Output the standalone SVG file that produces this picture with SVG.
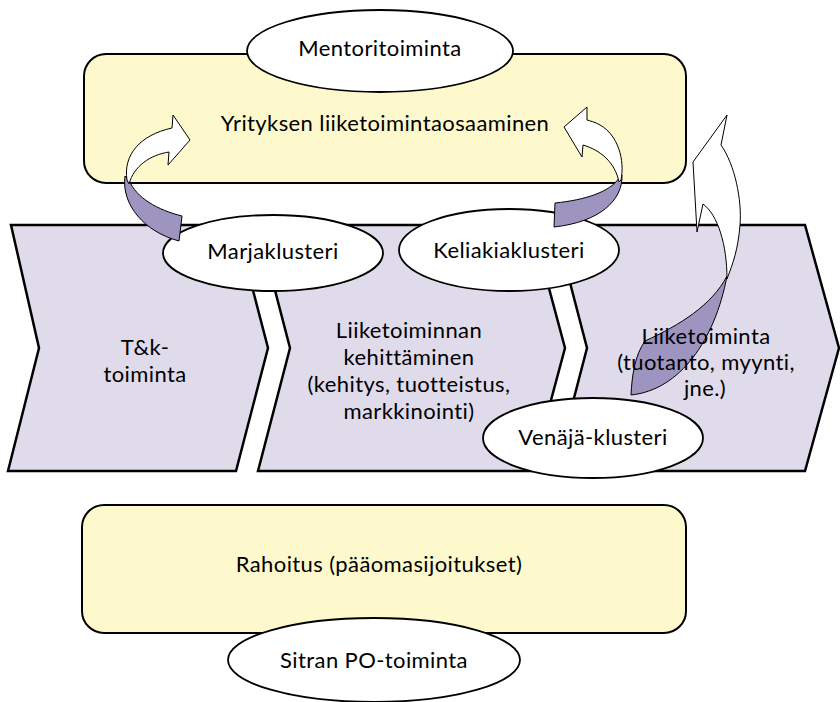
<svg xmlns="http://www.w3.org/2000/svg" width="840" height="702" viewBox="0 0 840 702">
<style>
.box{fill:#FEF9CC;stroke:#000;stroke-width:2}
.chev{fill:#DFDBEB;stroke:#000;stroke-width:2.5;stroke-linejoin:miter}
.ell{fill:#fff;stroke:#000;stroke-width:1.8}
.aw{fill:#fff;stroke:#000;stroke-width:1}
.ap{fill:#9D94BF;stroke:#000;stroke-width:1}
text{font-family:Lato,"Open Sans","Liberation Sans",sans-serif;font-size:22px;letter-spacing:0.4px;fill:#000;text-anchor:middle}
</style>
<rect width="840" height="702" fill="#fff"/>
<g id="yritys">
<rect class="box" x="84" y="54" width="602" height="129" rx="22"/>
<text x="385" y="131">Yrityksen liiketoimintaosaaminen</text>
</g>
<g id="rahoitus">
<rect class="box" x="82" y="505" width="604" height="128" rx="22"/>
<text x="379" y="572">Rahoitus (pääomasijoitukset)</text>
</g>
<g id="tk">
<polygon class="chev" points="11,225 236,225 268,348 236,471 8,471 39,348"/>
</g>
<g id="kehitys">
<polygon class="chev" points="258,225 532,225 565,348 532,471 258,471 290,348"/>
</g>
<g id="liiketoiminta">
<polygon class="chev" points="555,225 805,225 839,348 805,471 555,471 587,348"/>
</g>
<g id="mentori">
<ellipse class="ell" cx="380" cy="51" rx="133" ry="41"/>
<text x="380" y="56">Mentoritoiminta</text>
</g>
<g id="marja">
<ellipse class="ell" cx="273" cy="253" rx="110" ry="38"/>
<text x="273" y="259">Marjaklusteri</text>
</g>
<g id="keliakia">
<ellipse class="ell" cx="509" cy="250" rx="110" ry="41"/>
<text x="509" y="258">Keliakiaklusteri</text>
</g>
<g id="venaja">
<ellipse class="ell" cx="593" cy="438" rx="110" ry="40"/>
<text x="593" y="445">Venäjä-klusteri</text>
</g>
<g id="sitra">
<ellipse class="ell" cx="374" cy="660" rx="146" ry="42"/>
<text x="374" y="668">Sitran PO-toiminta</text>
</g>
<g id="connectors">
<path class="ap" d="M125,176 C121,205 145,232 179,241 L182,216 C158,210 136,198 129,180 Z"/>
<path class="aw" d="M127,180 C123,155 140,135 172,128 L173,115 L190,140 L168,165 L169,152 C150,155 134,166 129,184 Z"/>
<path class="ap" d="M622,175 C623,200 600,222 554,227 L555,203 C585,200 610,192 619,178 Z"/>
<path class="aw" d="M621,180 C625,160 618,135 600,125 C595,122 590,121 587,120 L587,107 L564,127 L582,157 L583,145 C600,150 615,162 619,182 Z"/>
<path class="ap" d="M727,276 C712,305 680,325 645,341 C635,355 632,375 631,395 C680,390 715,340 727,276 Z"/>
<path class="aw" d="M727,115 L721,145 C735,165 742,200 740,225 C738,250 733,263 727,279 C727,245 718,215 703,204 L697,232 L693,162 Z"/>
</g>
<g id="labels">
<text x="145" y="355">T&amp;k-</text>
<text x="145" y="382">toiminta</text>
<text x="409" y="338">Liiketoiminnan</text>
<text x="409" y="365">kehittäminen</text>
<text x="409" y="392">(kehitys, tuotteistus,</text>
<text x="409" y="419">markkinointi)</text>
<text x="706" y="344">Liiketoiminta</text>
<text x="706" y="370">(tuotanto, myynti,</text>
<text x="705" y="396">jne.)</text>
</g>
</svg>
